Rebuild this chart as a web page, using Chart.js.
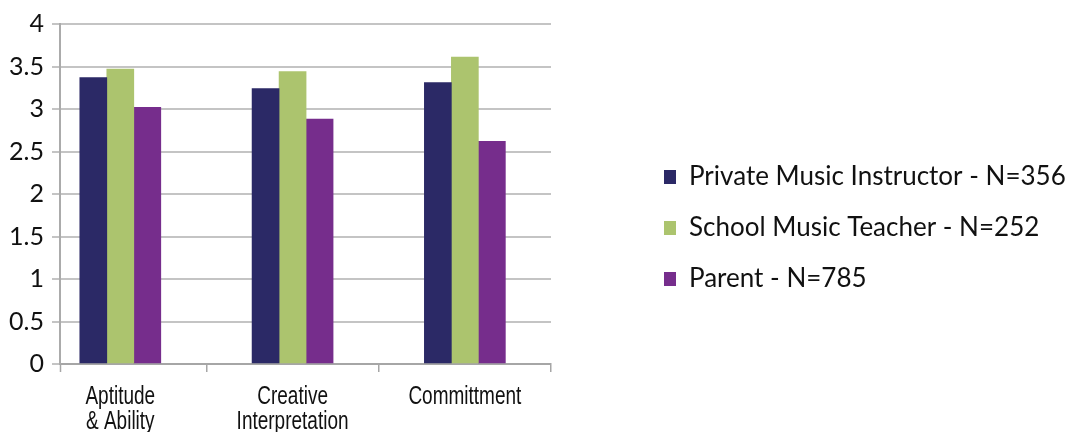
<!DOCTYPE html>
<html>
<head>
<meta charset="utf-8">
<script src="https://cdn.jsdelivr.net/npm/chart.js@4.4.1/dist/chart.umd.min.js"></script>
<style>
  html, body { margin: 0; padding: 0; background: #ffffff; }
  #wrap { width: 1076px; height: 432px; }
</style>
</head>
<body>
<div id="wrap"><canvas id="chart"></canvas></div>
<script>
// Category labels (multi-line) and the three survey groups
const categories = [['Aptitude', '& Ability'], ['Creative', 'Interpretation'], ['Committment']];
const seriesNames = ['Private Music Instructor - N=356', 'School Music Teacher - N=252', 'Parent - N=785'];

// Mean ratings per category
const privateInstructor = [3.37, 3.24, 3.31];
const schoolTeacher = [3.47, 3.44, 3.61];
const parentScores = [3.02, 2.88, 2.62];

// Value axis
const yMin = 0;
const yMax = 4;
const yStep = 0.5;

const seriesValues = [privateInstructor, schoolTeacher, parentScores];
const seriesColors = ['#2b2966', '#acc46e', '#762d8c'];

const mctx = document.createElement('canvas').getContext('2d');
function textWidth(font, text) { mctx.font = font; return mctx.measureText(text).width; }

const legendFont = { family: 'Lato, "Liberation Sans", sans-serif', size: 26 };
const legendPad = 25;
const legendBox = 12;
const gapWidth = 88;

// Keep the plot's right edge fixed whatever the legend text measures
// (a vertical legend adds 10px to its fitted column width)
const legendTextW = Math.max(...seriesNames.map(n => textWidth(legendFont.size + 'px ' + legendFont.family, n)));
const legendW = legendPad + legendBox + legendFont.size / 2 + legendTextW + 10;
const plotRight = 551;
const padRight = Math.max(0, 1076 - plotRight - gapWidth - legendW);

// Condensed category captions, drawn under each group on the x scale
const catFont = '25px "Liberation Sans", Arial, sans-serif';
const catSqueeze = 0.76;
const catBaseline = 40;
const catLineGap = 25;
const categoryCaptions = {
  id: 'categoryCaptions',
  afterDraw(chart) {
    const { ctx } = chart;
    const x = chart.scales.x;
    ctx.save();
    // small tick where the category axis meets the value axis
    ctx.strokeStyle = '#a6a6a6';
    ctx.lineWidth = 1.5;
    ctx.beginPath();
    ctx.moveTo(x.left + 0.5, x.top);
    ctx.lineTo(x.left + 0.5, x.top + 8);
    ctx.stroke();
    ctx.font = catFont;
    ctx.fillStyle = '#111111';
    ctx.textAlign = 'center';
    ctx.textBaseline = 'alphabetic';
    categories.forEach((lines, i) => {
      const cx = x.getPixelForValue(i);
      lines.forEach((line, j) => {
        ctx.save();
        ctx.translate(cx, x.top + catBaseline + j * catLineGap);
        ctx.scale(catSqueeze, 1);
        ctx.fillText(line, 0, 0);
        ctx.restore();
      });
    });
    ctx.restore();
  }
};

const datasets = seriesValues.map((vals, s) => ({
  label: seriesNames[s],
  data: vals.map((v, i) => ({ x: i, y: v })),
  backgroundColor: seriesColors[s],
  borderWidth: 0,
  barThickness: 27
}));

new Chart(document.getElementById('chart'), {
  type: 'bar',
  data: { datasets },
  plugins: [categoryCaptions],
  options: {
    responsive: true,
    maintainAspectRatio: false,
    animation: false,
    events: [],
    layout: { padding: { top: 24, left: 0, bottom: 0, right: padRight } },
    plugins: {
      tooltip: { enabled: false },
      legend: {
        position: 'right',
        maxWidth: 700,
        labels: {
          boxWidth: legendBox,
          boxHeight: 14,
          padding: legendPad,
          color: '#111111',
          font: legendFont
        }
      }
    },
    scales: {
      x: {
        type: 'linear',
        min: -0.35,
        max: 2.5,
        offset: false,
        afterBuildTicks: scale => { scale.ticks = categories.map((c, i) => ({ value: i })); },
        afterFit: scale => { scale.height = 68; },
        grid: {
          offset: true,
          drawOnChartArea: false,
          drawTicks: true,
          tickLength: 8,
          color: '#a6a6a6',
          lineWidth: 1.5
        },
        border: { display: true, color: '#a6a6a6', width: 2 },
        ticks: { display: false }
      },
      y: {
        min: yMin,
        max: yMax,
        afterFit: scale => { scale.width = 60; },
        grid: { color: '#c4c4c4', lineWidth: 2, tickLength: 8 },
        border: { display: true, color: '#ababab', width: 2 },
        ticks: {
          stepSize: yStep,
          padding: 8,
          color: '#111111',
          font: { family: 'Lato, "Liberation Sans", sans-serif', size: 25 },
          callback: value => String(value)
        }
      },
      gap: {
        type: 'linear',
        position: 'right',
        display: true,
        grid: { display: false },
        border: { display: false },
        ticks: { display: false },
        afterFit: scale => { scale.width = gapWidth; }
      }
    }
  }
});
</script>
</body>
</html>
